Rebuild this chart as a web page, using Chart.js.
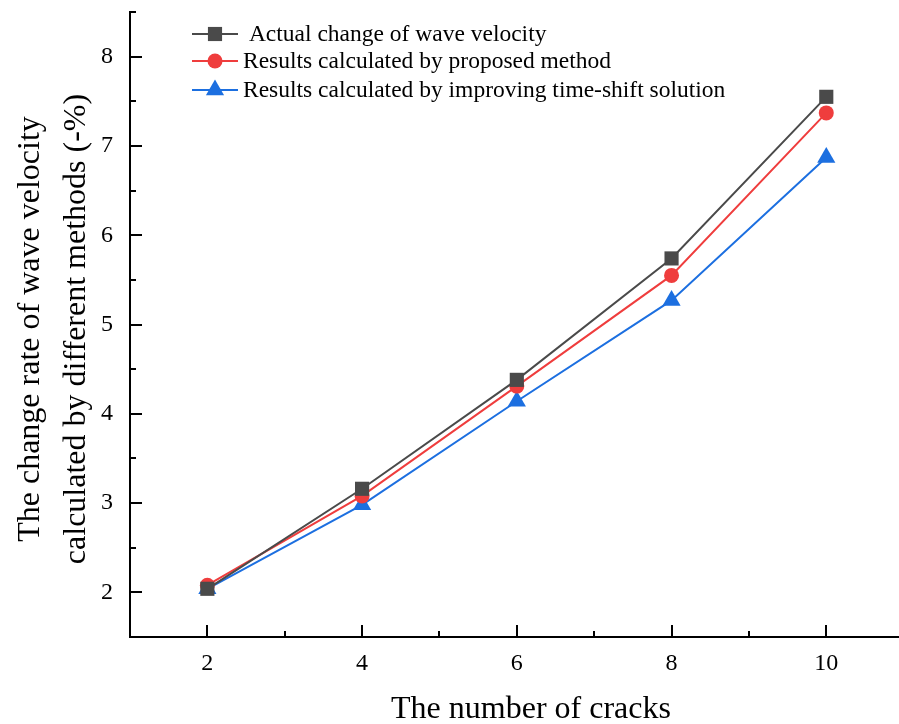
<!DOCTYPE html>
<html>
<head>
<meta charset="utf-8">
<script src="https://cdn.jsdelivr.net/npm/chart.js@4"></script>
<style>
  html, body { margin: 0; padding: 0; background: #fff; overflow: hidden; }
  #wrap { position: relative; width: 899px; height: 724px; }
</style>
</head>
<body>
<div id="wrap"><canvas id="chart" width="899" height="724"></canvas></div>
<script>
// data
const cracks = [2, 4, 6, 8, 10];
const actualChange = [2.04, 3.16, 4.38, 5.74, 7.55];
const proposedMethod = [2.08, 3.08, 4.31, 5.55, 7.37];
const timeShift = [2.04, 2.98, 4.14, 5.27, 6.87];
const seriesNames = [
  " Actual change of wave velocity",
  "Results calculated by proposed method",
  "Results calculated by improving time-shift solution"
];
const xTicks = [2, 4, 6, 8, 10];
const yTicks = [2, 3, 4, 5, 6, 7, 8];

const FONT = "'Liberation Serif', 'Times New Roman', serif";
const colors = ["#4a4a4a", "#ef3d3d", "#1c6fe0"];
const shapes = ["rect", "circle", "triangle"];
const sizes = [10, 7.5, 10.5];

const toPoints = (vals) => cracks.map((c, i) => ({ x: c, y: vals[i] }));

// ticks drawn inward, minor ticks in between, legend and axis titles
const decorations = {
  id: "decorations",
  afterDraw(chart) {
    const { ctx, scales: { x, y }, chartArea } = chart;
    ctx.save();
    ctx.strokeStyle = "#000";
    ctx.lineWidth = 2;
    const bottom = chartArea.bottom, left = chartArea.left;
    ctx.beginPath();
    for (let v = 1; v <= 11; v++) {
      const px = Math.round(x.getPixelForValue(v));
      const len = xTicks.includes(v) ? 12 : 6;
      ctx.moveTo(px, bottom); ctx.lineTo(px, bottom - len);
    }
    for (let v = 1.5; v <= 8.5; v += 0.5) {
      const py = Math.round(y.getPixelForValue(v));
      const len = yTicks.includes(v) ? 12 : 6;
      ctx.moveTo(left, py); ctx.lineTo(left + len, py);
    }
    ctx.stroke();

    // legend
    const rows = [34, 61, 90];
    chart.data.datasets.forEach((ds, i) => {
      const cy = rows[i];
      ctx.strokeStyle = ds.borderColor;
      ctx.fillStyle = ds.backgroundColor;
      ctx.lineWidth = 2;
      ctx.beginPath();
      ctx.moveTo(192, cy); ctx.lineTo(238, cy);
      ctx.stroke();
      Chart.helpers.drawPoint(ctx, {
        pointStyle: ds.pointStyle, radius: ds.pointRadius, borderWidth: 0
      }, 215, cy);
      ctx.fillStyle = "#000";
      ctx.font = "23.5px " + FONT;
      ctx.textBaseline = "middle";
      ctx.textAlign = "left";
      ctx.fillText(seriesNames[i], 243, cy + 1);
    });

    // axis titles
    ctx.fillStyle = "#000";
    ctx.textAlign = "center";
    ctx.textBaseline = "middle";
    ctx.font = "32px " + FONT;
    ctx.fillText("The number of cracks", 531, 710);
    ctx.save();
    ctx.translate(31, 329);
    ctx.rotate(-Math.PI / 2);
    ctx.fillText("The change rate of wave velocity", 0, 0);
    ctx.fillText("calculated by different methods (-%)", 0, 46);
    ctx.restore();
    ctx.restore();
  }
};

new Chart(document.getElementById("chart"), {
  type: "scatter",
  data: {
    datasets: [actualChange, proposedMethod, timeShift].map((vals, i) => ({
      label: seriesNames[i],
      data: toPoints(vals),
      showLine: true,
      borderColor: colors[i],
      backgroundColor: colors[i],
      borderWidth: 2,
      pointStyle: shapes[i],
      pointRadius: sizes[i],
      pointBorderWidth: 0,
      pointHoverRadius: sizes[i],
      tension: 0
    }))
  },
  options: {
    responsive: false,
    animation: false,
    events: [],
    layout: { autoPadding: false, padding: { top: 12, right: 0, left: 0, bottom: 0 } },
    plugins: { legend: { display: false }, tooltip: { enabled: false } },
    scales: {
      x: {
        type: "linear",
        min: 1,
        max: 10.94,
        afterBuildTicks: (s) => { s.ticks = xTicks.map((v) => ({ value: v })); },
        afterFit: (s) => { s.height = 87; s.paddingLeft = 0; s.paddingRight = 0; },
        grid: { display: true, drawOnChartArea: false, drawTicks: false },
        border: { display: true, color: "#000", width: 2 },
        ticks: { padding: 12, color: "#000", font: { family: FONT, size: 24 } }
      },
      y: {
        min: 1.5,
        max: 8.5,
        afterBuildTicks: (s) => { s.ticks = yTicks.map((v) => ({ value: v })); },
        afterFit: (s) => { s.width = 130; s.paddingTop = 0; s.paddingBottom = 0; },
        grid: { display: true, drawOnChartArea: false, drawTicks: false },
        border: { display: true, color: "#000", width: 2 },
        ticks: { padding: 17, color: "#000", font: { family: FONT, size: 24 } }
      }
    }
  },
  plugins: [decorations]
});
</script>
</body>
</html>
